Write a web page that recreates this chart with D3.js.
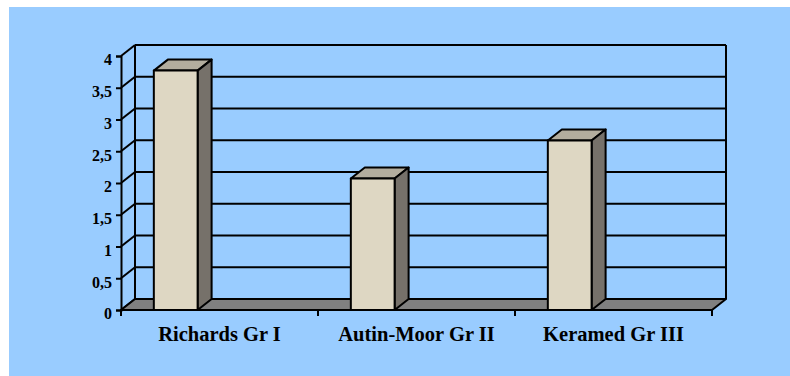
<!DOCTYPE html>
<html>
<head>
<meta charset="utf-8">
<script src="https://cdn.jsdelivr.net/npm/d3@7"></script>
<style>
  body { margin: 0; background: #fff; }
  svg { display: block; }
</style>
</head>
<body>
<svg width="790" height="376"></svg>
<script>
// data
const categories = ["Richards Gr I", "Autin-Moor Gr II", "Keramed Gr III"];
const values = [3.77, 2.07, 2.67];
const seriesSlots = ["s1", "s2", "s3"];
const yTicks = [0, 0.5, 1, 1.5, 2, 2.5, 3, 3.5, 4];
const yTickLabels = ["0", "0,5", "1", "1,5", "2", "2,5", "3", "3,5", "4"];

const plotLeft = 121;
const plotRight = 712;
const plotBottom = 310;
const plotTop = 56;
const dx = 14;
const dy = -11;
const serif = "'Liberation Serif', 'Times New Roman', Times, serif";

const svg = d3.select("svg");

svg
  .append("rect")
  .attr("x", 9)
  .attr("y", 7)
  .attr("width", 781)
  .attr("height", 369)
  .attr("fill", "#99ccff");

const yScale = d3.scaleLinear().domain([0, 4]).range([plotBottom, plotTop]);

const xScale = d3
  .scaleBand()
  .domain(categories)
  .range([plotLeft, plotRight])
  .padding(0);

// 3 series slots per category, only the first one carries data
const slotScale = d3
  .scaleBand()
  .domain(seriesSlots)
  .range([0, xScale.bandwidth()])
  .paddingInner(0)
  .paddingOuter(0.75);

const line = (x1, y1, x2, y2, w) =>
  svg
    .append("line")
    .attr("x1", x1)
    .attr("y1", y1)
    .attr("x2", x2)
    .attr("y2", y2)
    .attr("stroke", "#000")
    .attr("stroke-width", w || 2);

// back wall grid
svg
  .append("g")
  .selectAll("line")
  .data(yTicks)
  .enter()
  .append("line")
  .attr("x1", plotLeft + dx)
  .attr("x2", plotRight + dx)
  .attr("y1", d => yScale(d) + dy)
  .attr("y2", d => yScale(d) + dy)
  .attr("stroke", "#000")
  .attr("stroke-width", 2);

// side wall diagonals
svg
  .append("g")
  .selectAll("line")
  .data(yTicks)
  .enter()
  .append("line")
  .attr("x1", plotLeft)
  .attr("x2", plotLeft + dx)
  .attr("y1", d => yScale(d))
  .attr("y2", d => yScale(d) + dy)
  .attr("stroke", "#000")
  .attr("stroke-width", 2);

line(plotLeft + dx, yScale(4) + dy, plotLeft + dx, yScale(0) + dy);
line(plotRight + dx, yScale(4) + dy, plotRight + dx, yScale(0) + dy);

// floor
svg
  .append("polygon")
  .attr("points", [
    [plotLeft, plotBottom],
    [plotRight, plotBottom],
    [plotRight + dx, plotBottom + dy],
    [plotLeft + dx, plotBottom + dy]
  ].join(" "))
  .attr("fill", "#808080")
  .attr("stroke", "#000")
  .attr("stroke-width", 2)
  .attr("stroke-linejoin", "round");

// y axis
const yAxis = svg
  .append("g")
  .attr("transform", `translate(${plotLeft}, 0)`)
  .call(
    d3
      .axisLeft(yScale)
      .tickValues(yTicks)
      .tickSize(5)
      .tickPadding(4)
      .tickFormat((d, i) => yTickLabels[i])
  );
yAxis.select(".domain").attr("stroke-width", 2);
yAxis.selectAll(".tick line").attr("stroke-width", 2);
yAxis
  .selectAll(".tick text")
  .style("font-family", serif)
  .style("font-weight", "bold")
  .style("font-size", "16px")
  .attr("fill", "#000")
  .attr("dy", "0.55em");

// x axis
const xAxis = svg
  .append("g")
  .attr("transform", `translate(0, ${plotBottom})`)
  .call(d3.axisBottom(xScale).tickSize(0).tickPadding(16));
xAxis.select(".domain").remove();
xAxis
  .selectAll(".tick text")
  .style("font-family", serif)
  .style("font-weight", "bold")
  .style("font-size", "20.5px")
  .attr("fill", "#000");

svg
  .append("g")
  .selectAll("line")
  .data(categories.concat([null]))
  .enter()
  .append("line")
  .attr("x1", (d, i) => plotLeft + i * xScale.step())
  .attr("x2", (d, i) => plotLeft + i * xScale.step())
  .attr("y1", plotBottom)
  .attr("y2", plotBottom + 6)
  .attr("stroke", "#000")
  .attr("stroke-width", 2);

// bars
const bars = svg
  .selectAll(".bar")
  .data(categories.map((c, i) => ({ category: c, value: values[i] })))
  .enter()
  .append("g")
  .attr("class", "bar")
  .attr("stroke", "#000")
  .attr("stroke-width", 2)
  .attr("stroke-linejoin", "round");

const bx = d => xScale(d.category) + slotScale("s1");
const bw = slotScale.bandwidth();

bars
  .append("polygon")
  .attr("fill", "#b3ad9e")
  .attr("points", d => {
    const x = bx(d), y = yScale(d.value);
    return [[x, y], [x + dx, y + dy], [x + bw + dx, y + dy], [x + bw, y]].join(" ");
  });

bars
  .append("polygon")
  .attr("fill", "#76716a")
  .attr("points", d => {
    const x = bx(d) + bw, y = yScale(d.value);
    return [[x, y], [x + dx, y + dy], [x + dx, plotBottom + dy], [x, plotBottom]].join(" ");
  });

bars
  .append("rect")
  .attr("fill", "#ded7c3")
  .attr("x", bx)
  .attr("y", d => yScale(d.value))
  .attr("width", bw)
  .attr("height", d => plotBottom - yScale(d.value));
</script>
</body>
</html>
